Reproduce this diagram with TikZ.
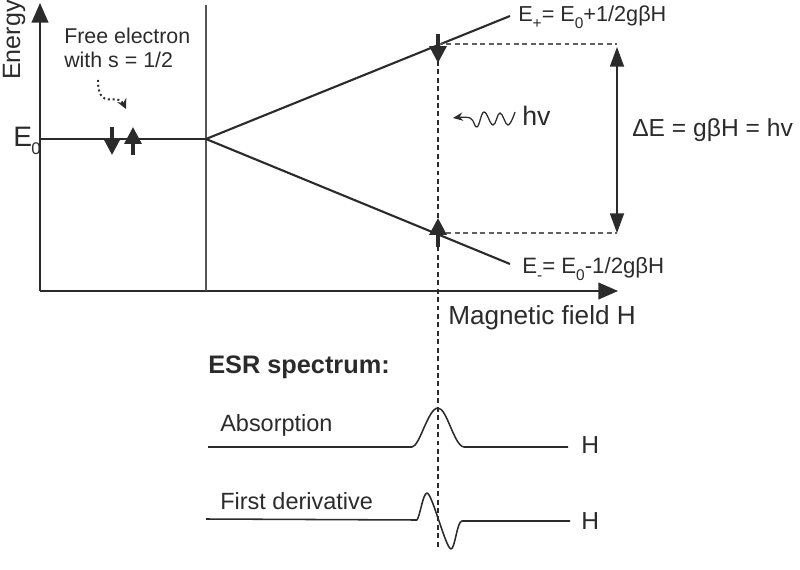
\documentclass[tikz,border=0pt]{standalone}
\usepackage{fontspec}
\setmainfont{Liberation Sans}
\usetikzlibrary{arrows.meta}
\definecolor{ink}{HTML}{2B2B2B}
\tikzset{
    lbl/.style={anchor=west,inner sep=0pt,text=ink,font=\fontsize{15.2}{19}\selectfont},
    lblmid/.style={lbl,font=\fontsize{16.7}{20}\selectfont},
    lblbig/.style={lbl,font=\fontsize{17.5}{21}\selectfont},
    level/.style={draw=ink,line width=1.5pt},
    trace/.style={draw=ink,line width=1.1pt,line join=round},
    guide/.style={draw=ink,line width=.8pt,dash pattern=on 3.5pt off 2.5pt},
    axis/.style={draw=ink,line width=1.1pt,-{Triangle[length=14pt,width=12pt]}},
    spin/.style={draw=ink,line width=2.4pt,-{Triangle[length=12pt,width=12pt]}},
}
\newcommand{\lowr}[1]{\raisebox{-5pt}{\fontsize{11}{11}\selectfont #1}}
\begin{document}
\begin{tikzpicture}[x=.025cm,y=-.025cm]
        \useasboundingbox (0,0) rectangle (800,570);
        % axes
        \coordinate (orig) at (40,291);
        \coordinate (ytop) at (40,3);
        \coordinate (xend) at (618,291);
        \coordinate (split) at (206,139);
        \coordinate (wallt) at (206,5);
        \coordinate (wallb) at (206,291);
        \coordinate (elft) at (40,139);
        \draw [axis] (orig) -- (ytop);
        \draw [axis] (orig) -- (xend);
        \draw [draw=ink!80,line width=.8pt] (wallt) -- (wallb);
        % levels
        \coordinate (upend) at (510,16);
        \coordinate (loend) at (510,264);
        \draw [level] (elft) -- (split);
        \draw [level] (split) -- (upend);
        \draw [level] (split) -- (loend);
        % resonance guides
        \coordinate (reup) at (438,44);
        \coordinate (relo) at (438,233);
        \coordinate (rebot) at (438,550);
        \coordinate (gapup) at (617,44);
        \coordinate (gaplo) at (617,233);
        \draw [guide] (reup) -- (rebot);
        \draw [guide,draw=ink!75] (reup) -- (gapup);
        \draw [guide,draw=ink!75] (relo) -- (gaplo);
        \draw [draw=ink,line width=1.1pt,{Triangle[length=14pt,width=10pt]}-{Triangle[length=14pt,width=10pt]}] (gapup) ++(0,3) coordinate (gapa) (gapa) -- (gaplo);
        % spins
        \foreach \n/\x/\a/\b in {fa/112/127/155,fb/133/155/127,ua/438/34/63,la/438/247/218}{
            \coordinate (\n s) at (\x,\a);
            \coordinate (\n e) at (\x,\b);
            \draw [spin] (\n s) -- (\n e);
        }
        % photon and the dotted hint
        \coordinate (dots) at (98,80);
        \coordinate (dote) at (126,109);
        \draw [draw=ink,line width=1.4pt,dotted,-{Stealth[length=7pt,width=7pt]}] (dots) .. controls (98,112) and (118,92) .. (dote);
        \coordinate (wavt) at (453,118);
        \draw [draw=ink,line width=.9pt,-{Stealth[length=7pt,width=6pt]}] plot [smooth,tension=.7] coordinates {(515,112) (508,125) (500,113) (493,125) (484,112) (477,127) (470,118) (wavt)};
        % spectra
        \coordinate (absa) at (208,447);
        \coordinate (absb) at (568,447);
        \coordinate (dera) at (206,519);
        \coordinate (derb) at (570,521);
        \draw [trace] (absa) -- (412,447) .. controls (420,446) and (428,408) .. (438,408) .. controls (447,408) and (454,446) .. (464,447) -- (absb);
        \draw [trace] (dera) -- (417,520) .. controls (420,516) and (423,493) .. (427,493) .. controls (432,493) and (446,549) .. (451,549) .. controls (455,549) and (457,521) .. (462,521) -- (derb);
        % labels
        \node [lbl,font=\fontsize{17.8}{21}\selectfont,rotate=90,anchor=west] (ener) at (14,80) {Energy};
        \node [lbl,font=\fontsize{20}{21}\selectfont] (ezero) at (13,141) {E\kern-.5pt\raisebox{-6pt}{\fontsize{12}{12}\selectfont 0}};
        \node [lbl] (free) at (64,36) {Free electron};
        \node [lbl] (sval) at (64,60) {with s = 1/2};
        \node [lbl,font=\fontsize{15.4}{19}\selectfont] (eplus) at (518,17) {E\lowr{+}= E\lowr{0}+1/2gβH};
        \node [lbl,font=\fontsize{15.8}{19}\selectfont] (eminus) at (522,269) {E\lowr{-}= E\lowr{0}-1/2gβH};
        \node [lbl,font=\fontsize{19}{21}\selectfont] (phot) at (522,116) {hv};
        \node [lblbig] (gap) at (632,130) {ΔE = gβH = hv};
        \node [lbl,font=\fontsize{18.6}{22}\selectfont] (field) at (448,318) {Magnetic field H};
        \node [lbl,font=\fontsize{18}{22}\selectfont\bfseries] (esr) at (208,367) {ESR spectrum:};
        \node [lblmid] (abso) at (220,425) {Absorption};
        \node [lblmid] (deri) at (220,501) {First derivative};
        \node [lblbig] (hup) at (581,445) {H};
        \node [lblbig] (hlo) at (581,521) {H};

        \end{tikzpicture}
\end{document}
